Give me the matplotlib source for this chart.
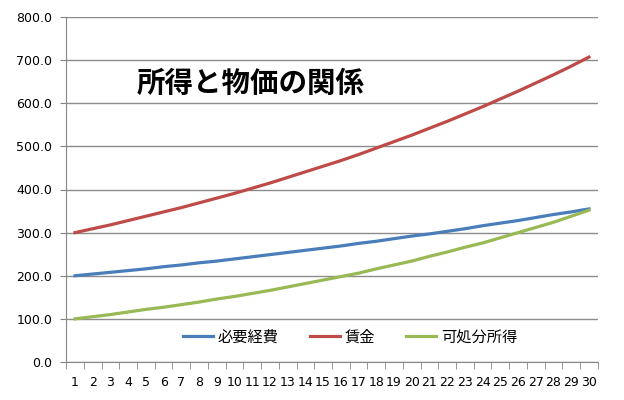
import numpy as np
import matplotlib.pyplot as plt

plt.rcParams['font.family'] = ['Noto Sans CJK JP', 'DejaVu Sans']

# data
years = list(range(1, 31))
wage = [300, 309, 318, 328, 338, 348, 358, 369, 380, 391,
        403, 415, 428, 441, 454, 467, 481, 496, 511, 526,
        542, 558, 575, 592, 610, 628, 647, 666, 686, 707]
expenses = [200, 204, 208, 212, 216, 221, 225, 230, 234, 239,
            244, 249, 254, 259, 264, 269, 275, 280, 286, 292,
            297, 303, 309, 316, 322, 328, 335, 342, 348, 355]
disposable = [100, 105, 110, 116, 122, 127, 133, 139, 146, 152,
              159, 166, 174, 182, 190, 198, 206, 216, 225, 234,
              245, 255, 266, 276, 288, 300, 312, 324, 338, 352]
yticks = [0, 100, 200, 300, 400, 500, 600, 700, 800]

fig = plt.figure(figsize=(6.24, 4.0), dpi=100)
ax = fig.add_axes([0.106, 0.095, 0.852, 0.8625])

ax.plot(years, expenses, color='#4A7EBB', lw=2.3, label='必要経費')
ax.plot(years, wage, color='#BE4B48', lw=2.3, label='賃金')
ax.plot(years, disposable, color='#98B954', lw=2.3, label='可処分所得')

ax.set_xlim(0.5, 30.5)
ax.set_ylim(0, 800)
ax.set_yticks(yticks)
ax.set_yticklabels([f'{v:.1f}' for v in yticks], fontsize=9, family='DejaVu Sans')
ax.set_xticks(years)
ax.set_xticklabels([str(y) for y in years], fontsize=9, family='DejaVu Sans')
ax.set_xticks(np.arange(0.5, 31, 1), minor=True)
ax.tick_params(axis='x', which='major', length=0, pad=10)
ax.tick_params(axis='x', which='minor', length=5, color='#868686')
ax.tick_params(axis='y', length=4, color='#868686', pad=6)

ax.grid(axis='y', color='#8c8c8c', lw=1)
ax.set_axisbelow(True)
for s in ['top', 'right']:
    ax.spines[s].set_visible(False)
for s in ['left', 'bottom']:
    ax.spines[s].set_color('#868686')

ax.text(0.133, 0.806, '所得と物価の関係', transform=ax.transAxes,
        fontsize=20.5, fontweight='bold', va='center', ha='left')

ax.legend(loc='center', bbox_to_anchor=(0.534, 0.072), ncol=3, frameon=False,
          fontsize=11, handlelength=2.0, handletextpad=0.3, columnspacing=2.0)

fig.savefig('out.png', dpi=100)
